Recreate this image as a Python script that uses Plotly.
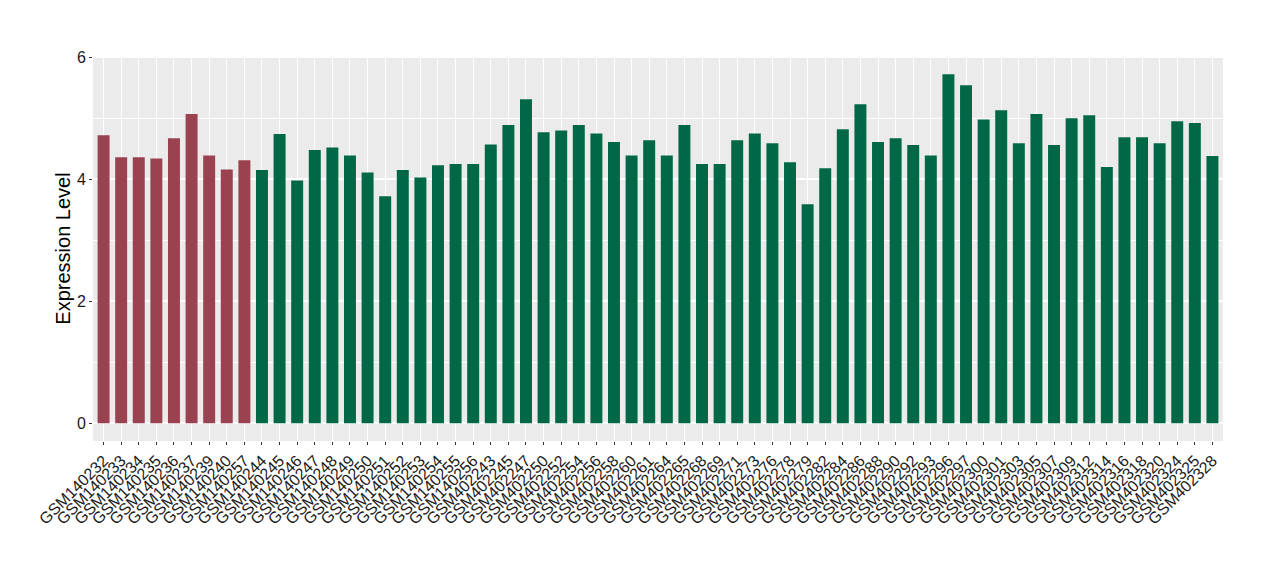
import plotly.graph_objects as go

samples = [
    "GSM140232", "GSM140233", "GSM140234", "GSM140235", "GSM140236", "GSM140237",
    "GSM140239", "GSM140240", "GSM140257",
    "GSM140244", "GSM140245", "GSM140246", "GSM140247", "GSM140248", "GSM140249",
    "GSM140250", "GSM140251", "GSM140252", "GSM140253", "GSM140254", "GSM140255",
    "GSM140256",
    "GSM402243", "GSM402245", "GSM402247", "GSM402250", "GSM402252", "GSM402254",
    "GSM402256", "GSM402258", "GSM402260", "GSM402261", "GSM402264", "GSM402265",
    "GSM402268", "GSM402269", "GSM402271", "GSM402273", "GSM402276", "GSM402278",
    "GSM402279", "GSM402282", "GSM402284", "GSM402286", "GSM402288", "GSM402290",
    "GSM402292", "GSM402293", "GSM402296", "GSM402297", "GSM402300", "GSM402301",
    "GSM402303", "GSM402305", "GSM402307", "GSM402309", "GSM402312", "GSM402314",
    "GSM402316", "GSM402318", "GSM402320", "GSM402324", "GSM402325", "GSM402328",
]

values = [
    4.72, 4.36, 4.36, 4.34, 4.67, 5.07, 4.39, 4.16, 4.31,
    4.15, 4.74, 3.98, 4.48, 4.52, 4.39, 4.11, 3.72, 4.15, 4.03, 4.23, 4.25, 4.25,
    4.57, 4.89, 5.31, 4.77, 4.80, 4.89, 4.75, 4.61, 4.39, 4.64, 4.39, 4.89,
    4.25, 4.25, 4.64, 4.75, 4.59, 4.28, 3.59, 4.18, 4.82, 5.23, 4.61, 4.67,
    4.56, 4.39, 5.72, 5.54, 4.98, 5.13, 4.59, 5.07, 4.56, 5.00, 5.05, 4.20,
    4.69, 4.69, 4.59, 4.95, 4.92, 4.38,
]

groups = ["A"] * 9 + ["B"] * 55
group_colors = {"A": "#9A4250", "B": "#006846"}

colors = [group_colors[g] for g in groups]

fig = go.Figure()
fig.add_trace(go.Bar(
    x=samples, y=values, marker=dict(color=colors, line=dict(width=0)),
    width=0.68, showlegend=False,
))

font_family = "Liberation Sans, Arial, Helvetica, sans-serif"
fig.update_layout(
    width=1272, height=572,
    margin=dict(l=85, r=57, t=48, b=139, autoexpand=False),
    paper_bgcolor="white",
    plot_bgcolor="#EBEBEB",
    font=dict(family=font_family, color="#1a1a1a"),
    xaxis=dict(
        type="category",
        range=[-0.6, len(samples) - 0.4],
        tickmode="array", tickvals=samples, ticktext=samples,
        tickangle=-45,
        tickfont=dict(size=16, color="#1a1a1a"),
        showgrid=True, gridcolor="white", gridwidth=1.2,
        ticks="outside", ticklen=3, tickcolor="#333333", tickwidth=1,
        zeroline=False, showline=False, automargin=False,
    ),
    yaxis=dict(
        range=[-0.29, 6.02],
        tickvals=[0, 2, 4, 6],
        tickfont=dict(size=16, color="#1a1a1a"),
        showgrid=True, gridcolor="white", gridwidth=1.5,
        minor=dict(tickvals=[1, 3, 5], showgrid=True, gridcolor="white", gridwidth=0.7),
        ticks="outside", ticklen=3, tickcolor="#333333", tickwidth=1,
        zeroline=False, showline=False, automargin=False,
        title=dict(text="Expression Level", font=dict(size=20, color="black"), standoff=0),
    ),
    bargap=0.32,
)

fig.write_html("out.html")
